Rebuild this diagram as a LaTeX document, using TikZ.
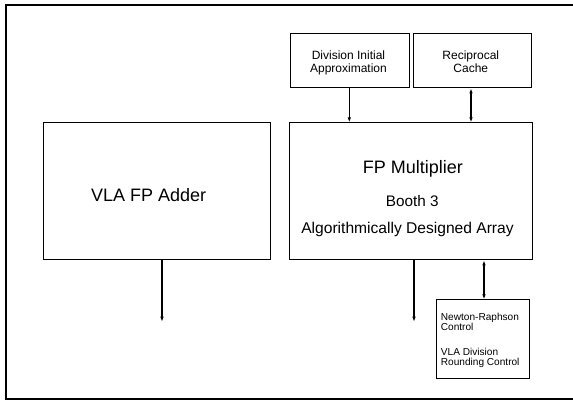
\documentclass[tikz,border=0pt]{standalone}
\usepackage{fontspec}
\setmainfont{Liberation Sans}
\usetikzlibrary{arrows.meta}
\tikzset{
  unit/.style={draw, line width=1.1pt, inner sep=0pt, anchor=north west},
  txt/.style={inner sep=0pt, anchor=base},
  flow/.style={line width=1.1pt, -{Latex[length=5pt,width=3.6pt]}},
  dflow/.style={line width=1.1pt, {Latex[length=5pt,width=3.6pt]}-{Latex[length=5pt,width=3.6pt]}},
}
\newcommand{\fsz}[2]{\fontsize{#1}{#2}\selectfont}
\begin{document}
\begin{tikzpicture}[x=1pt,y=-1pt]
  \useasboundingbox (0,0) rectangle (573,402);
  \draw[line width=1.3pt] (600,5) -- (6,5) -- (6,399) -- (600,399);
  % boxes
  \node[unit, minimum width=226.7pt, minimum height=137pt] (adder) at (43.3,122.3) {};
  \node[unit, minimum width=243pt, minimum height=137pt] (mult) at (289.3,122.3) {};
  \node[unit, minimum width=119pt, minimum height=54.6pt] (divapp) at (290,32.7) {};
  \node[unit, minimum width=118pt, minimum height=54.6pt] (rcache) at (413.3,32.7) {};
  \node[unit, minimum width=93pt, minimum height=79pt] (nrctl) at (436,299.3) {};
  % texts
  \node[txt, font=\fsz{18}{20}] (addertxt) at (148.7,201.7) {VLA FP Adder};
  \node[txt, font=\fsz{18}{20}] (multtxt) at (413,173) {FP Multiplier};
  \node[txt, font=\fsz{15.3}{17}] (booth) at (412.3,206) {Booth 3};
  \node[txt, font=\fsz{15.6}{17}] (array) at (407.5,233) {Algorithmically Designed Array};
  \node[txt, align=center, font=\fsz{12}{13.4}] (divtxt) at (348.5,72.7) {Division Initial\\Approximation};
  \node[txt, align=center, font=\fsz{12}{13.4}] (rctxt) at (470.8,72.7) {Reciprocal\\Cache};
  \node[txt, anchor=base west, align=left, font=\fsz{10.1}{9.4}] (nrtxt) at (440.7,365)
    {Newton-Raphson\\Control\\[15.3pt]VLA Division\\Rounding Control};
  % free ends
  \coordinate (addout) at (162,321.7);
  \coordinate (multout) at (414,321.7);
  % connectors
  \draw[flow] (adder.south -| addout) -- (addout);
  \draw[flow] (mult.south -| multout) -- (multout);
  \draw[dflow] (mult.south -| 484,0) -- (nrctl.north -| 484,0);
  \draw[flow] (divapp.south -| 349.3,0) -- (mult.north -| 349.3,0);
  \draw[dflow] (rcache.south -| 471,0) -- (mult.north -| 471,0);
\end{tikzpicture}
\end{document}
